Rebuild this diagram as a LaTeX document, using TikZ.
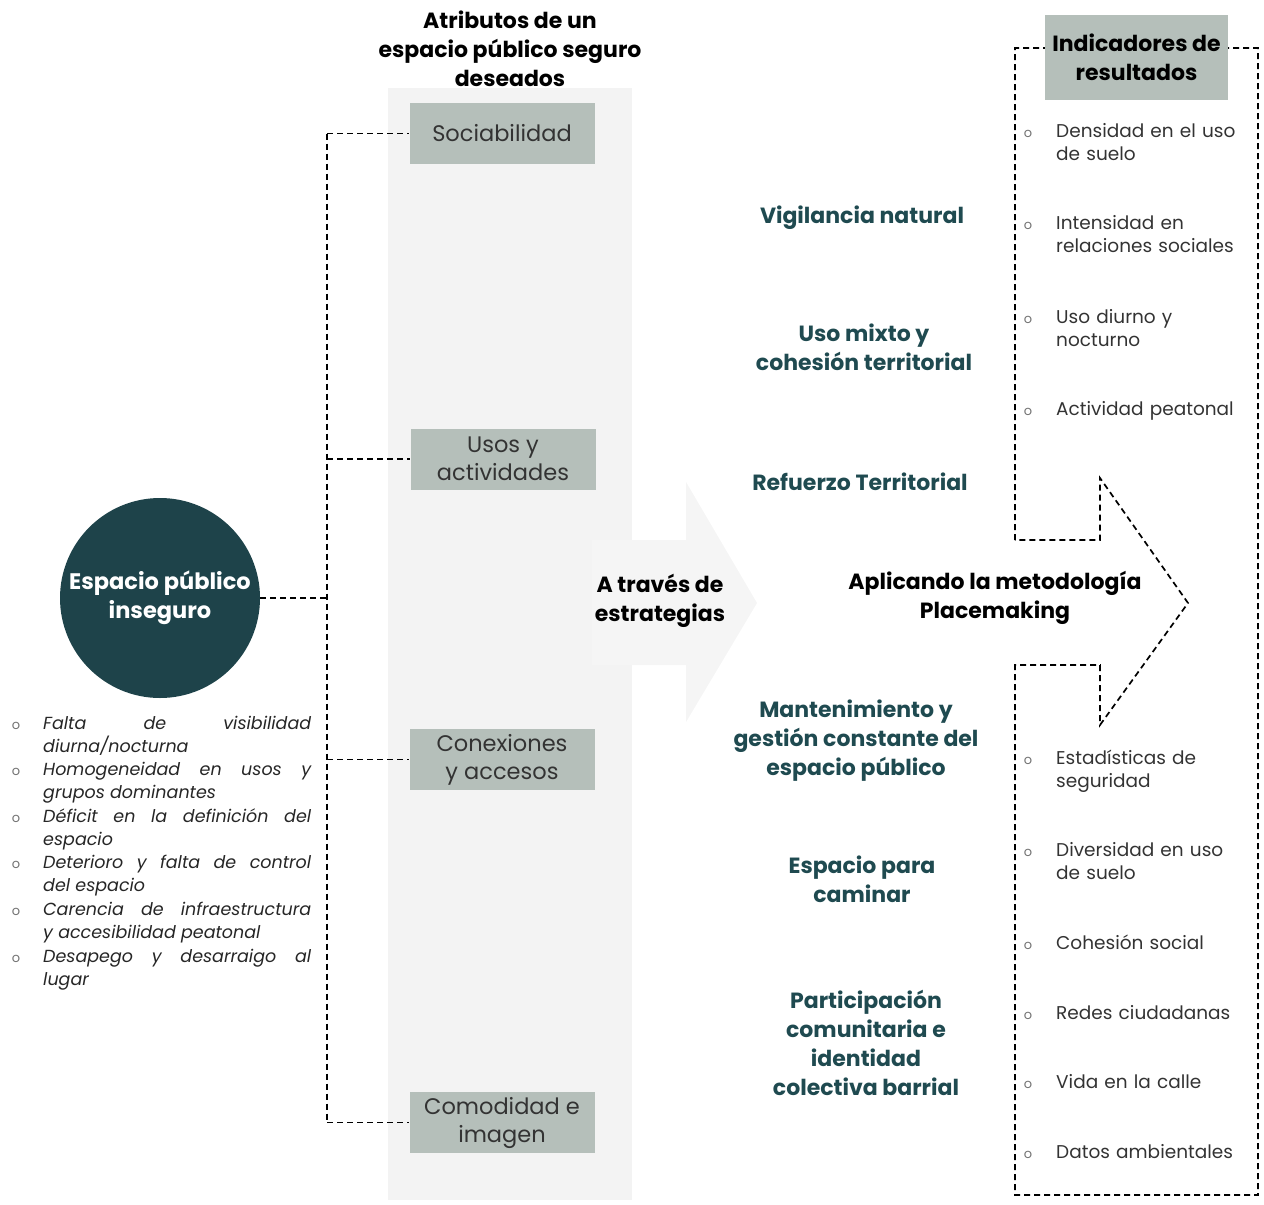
\documentclass[tikz,border=0pt]{standalone}
\usepackage{fontspec}
\setmainfont{Poppins}
\usetikzlibrary{positioning}
\definecolor{tealdark}{HTML}{1E434A}
\definecolor{tealtext}{HTML}{1F4A50}
\definecolor{boxgray}{HTML}{B5BFBA}
\definecolor{colgray}{HTML}{F3F3F3}
\tikzset{
  attr/.style={fill=boxgray, minimum width=185pt, minimum height=61pt, inner sep=0pt,
    text=black!80, font=\fontsize{22.5}{28}\selectfont, align=center},
  strat/.style={text=tealtext, font=\bfseries\fontsize{22}{29}\selectfont, align=center},
  headtxt/.style={font=\bfseries\fontsize{22}{29}\selectfont, align=center},
  ind/.style={anchor=base west, text width=205pt, inner sep=0pt, align=left,
    text=black!80, font=\fontsize{18.5}{23}\selectfont},
  bul/.style={anchor=base, inner sep=0pt, text=black!55, font=\fontsize{13}{13}\selectfont},
  prob/.style={anchor=base west, text width=268pt, inner sep=0pt, align=justify,
    text=black!85, font=\itshape\fontsize{17.5}{23.2}\selectfont},
  link/.style={dash pattern=on 6pt off 4pt, line width=1.7pt}
}
\begin{document}
\begin{tikzpicture}[x=1pt,y=-1pt]
\useasboundingbox (0,0) rectangle (1264,1205);
% fondo
\fill[colgray] (388,88) rectangle (632,1200);
\fill[black!4] (592,540) -- (686,540) -- (686,482) -- (757,603) -- (686,722) -- (686,665) -- (592,665) -- cycle;
\draw[link] (1015,540) -- (1015,48) -- (1258,48) -- (1258,1195) -- (1015,1195) -- (1015,665)
  -- (1100,665) -- (1100,725) -- (1188,603) -- (1100,478) -- (1100,540) -- cycle;

% columna de atributos
\node[headtxt] (titulo) at (510,49) {Atributos de un\\espacio público seguro\\deseados};
\node[attr] (soc) at (502,133.5) {Sociabilidad};
\node[attr] (usos) at (503,459) {Usos y\\actividades};
\node[attr] (con) at (502,759.5) {Conexiones\\y accesos};
\node[attr] (com) at (502,1122.5) {Comodidad e\\imagen};

% problema
\node[circle, fill=tealdark, minimum size=200pt, text=white, inner sep=0pt,
  font=\bfseries\fontsize{22.5}{29}\selectfont, align=center] (esp) at (160,598) {Espacio público\\inseguro};
\coordinate (spT) at (327,133.5);
\coordinate (spB) at (327,1122.5);
\draw[link] (spT) -- (spB);
\draw[link] (esp.east) -- (esp.east -| spT);
\foreach \n in {soc,usos,con,com}
  \draw[link] (\n.west -| spT) -- (\n.west);

\foreach \y/\t [count=\i] in {729/{Falta de visibilidad\linebreak diurna/nocturna},
  775/{Homogeneidad en usos y\linebreak grupos dominantes},
  822/{Déficit en la definición del\linebreak espacio},
  868/{Deterioro y falta de control\linebreak del espacio},
  915/{Carencia de infraestructura\linebreak y accesibilidad peatonal},
  962/{Desapego y desarraigo al\linebreak lugar}}{
  \node[prob] (p\i) at (43,\y) {\t};
  \node[bul] (pb\i) at (16,\y) {o};
}

% estrategias
\node[headtxt] (traves) at (660,601) {A través de\\estrategias};
\node[strat] (s1) at (862,218) {Vigilancia natural};
\node[strat] (s2) at (864,347.5) {Uso mixto y\\cohesión territorial};
\node[strat] (s3) at (860,482) {Refuerzo Territorial};
\node[strat] (s4) at (856,740.5) {Mantenimiento y\\gestión constante del\\espacio público};
\node[strat] (s5) at (862,879.5) {Espacio para\\caminar};
\node[strat] (s6) at (866,1043) {Participación\\comunitaria e\\identidad\\colectiva barrial};
\node[headtxt] (aplic) at (995,598) {Aplicando la metodología\\Placemaking};

% indicadores
\node[fill=boxgray, minimum width=183pt, minimum height=85pt, inner sep=0pt,
  font=\bfseries\fontsize{22}{29}\selectfont, align=center] (indic) at (1136.5,57.5) {Indicadores de\\resultados};
\foreach \y/\t [count=\i] in {137/{Densidad en el uso\\de suelo},
  229/{Intensidad en\\relaciones sociales},
  323/{Uso diurno y\\nocturno},
  415/{Actividad peatonal},
  764/{Estadísticas de\\seguridad},
  856/{Diversidad en uso\\de suelo},
  949/{Cohesión social},
  1019/{Redes ciudadanas},
  1088/{Vida en la calle},
  1158/{Datos ambientales}}{
  \node[ind] (r\i) at (1056,\y) {\t};
  \node[bul] (rb\i) at (1028,\y) {o};
}
\end{tikzpicture}
\end{document}
